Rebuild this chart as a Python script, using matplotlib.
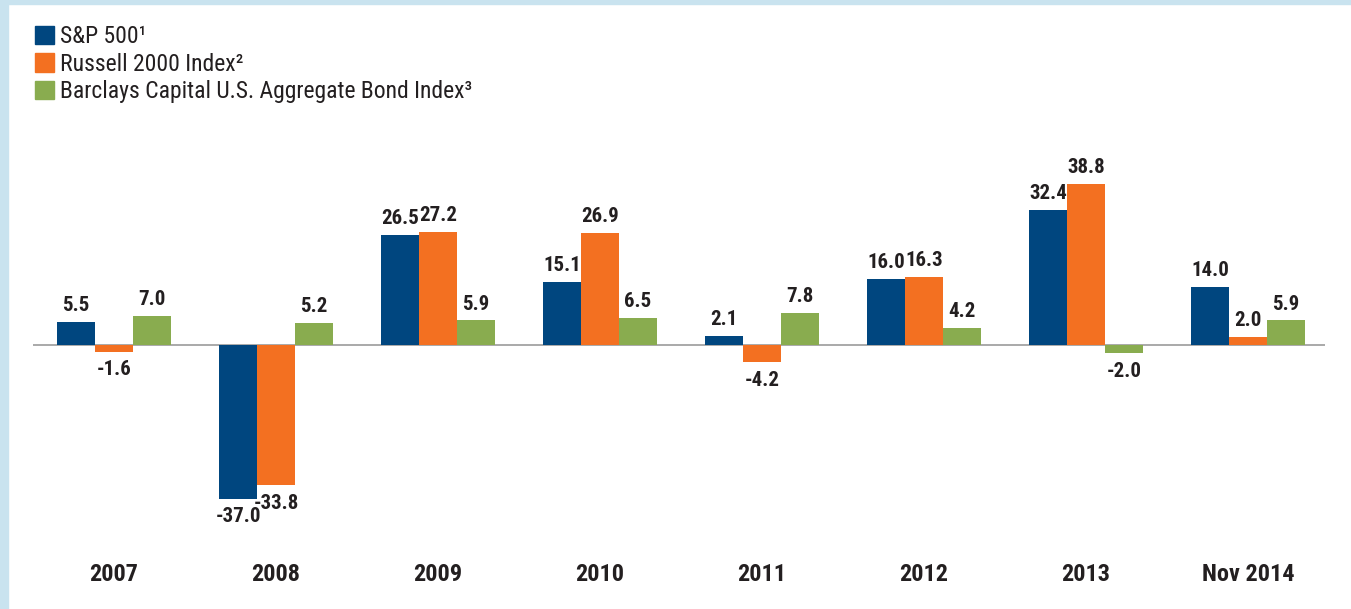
import matplotlib
matplotlib.use("Agg")
import matplotlib.pyplot as plt
import matplotlib.patches as mpatches
import numpy as np

YEARS = ["2007", "2008", "2009", "2010", "2011", "2012", "2013", "Nov 2014"]
SP500 = [5.5, -37.0, 26.5, 15.1, 2.1, 16.0, 32.4, 14.0]
RUSSELL = [-1.6, -33.8, 27.2, 26.9, -4.2, 16.3, 38.8, 2.0]
BARCLAYS = [7.0, 5.2, 5.9, 6.5, 7.8, 4.2, -2.0, 5.9]
SERIES_NAMES = ["S&P 500¹", "Russell 2000 Index²", "Barclays Capital U.S. Aggregate Bond Index³"]

BLUE = "#00467F"
ORANGE = "#F37021"
GREEN = "#89AC4F"
INK = "#231F20"
ZERO = "#A3A3A3"
FRAME = "#C9E3EF"
FONT = ["Roboto Condensed", "Roboto", "DejaVu Sans"]

plt.rcParams["font.family"] = FONT

W, H = 1351, 609
fig = plt.figure(figsize=(W / 100, H / 100), dpi=100, facecolor="white")

# light blue frame on left and top edges
fig.patches.append(mpatches.Rectangle((0, 0), 8 / W, 1, transform=fig.transFigure,
                                      color=FRAME, zorder=0))
fig.patches.append(mpatches.Rectangle((0, 1 - 4 / H), 1, 4 / H, transform=fig.transFigure,
                                      color=FRAME, zorder=0))

y0, y1 = -45, 50
px_per_unit = 4.155
zero_px = 345
top_px = zero_px - y1 * px_per_unit
bot_px = zero_px - y0 * px_per_unit
ax = fig.add_axes([33 / W, 1 - bot_px / H, (1325 - 33) / W, (bot_px - top_px) / H])
ax.set_xlim(-0.5, len(YEARS) - 0.525)
ax.set_ylim(y0, y1)

x = np.arange(len(YEARS))
bw = 0.2346
for k, (vals, col) in enumerate([(SP500, BLUE), (RUSSELL, ORANGE), (BARCLAYS, GREEN)]):
    xs = x + (k - 1) * bw
    ax.bar(xs, vals, width=bw, color=col, zorder=2, linewidth=0)
    for xi, v in zip(xs, vals):
        if v >= 0:
            ax.annotate(f"{v:.1f}", (xi, v), xytext=(0, 5), textcoords="offset points",
                        ha="center", va="bottom", fontsize=15, fontweight="bold",
                        color=INK)
        else:
            ax.annotate(f"{v:.1f}", (xi, v), xytext=(0, -6), textcoords="offset points",
                        ha="center", va="top", fontsize=15, fontweight="bold",
                        color=INK)

ax.axhline(0, color=ZERO, lw=1.3, zorder=1)

ax.set_xticks(x)
ax.set_xticklabels(YEARS, fontsize=17.5, fontweight="bold", color=INK)
ax.tick_params(axis="x", length=0, pad=22)
ax.set_yticks([])
for s in ax.spines.values():
    s.set_visible(False)
ax.patch.set_alpha(0)

handles = [mpatches.Patch(color=c, label=n) for c, n in zip([BLUE, ORANGE, GREEN], SERIES_NAMES)]
leg = fig.legend(handles=handles, loc="upper left", bbox_to_anchor=(35 / W, 1 - 25 / H),
                 frameon=False, fontsize=17, handlelength=0.8, handleheight=0.8,
                 handletextpad=0.28, labelspacing=0.2, borderpad=0, borderaxespad=0)
for t in leg.get_texts():
    t.set_color(INK)

fig.savefig("out.png", dpi=100, facecolor="white")
